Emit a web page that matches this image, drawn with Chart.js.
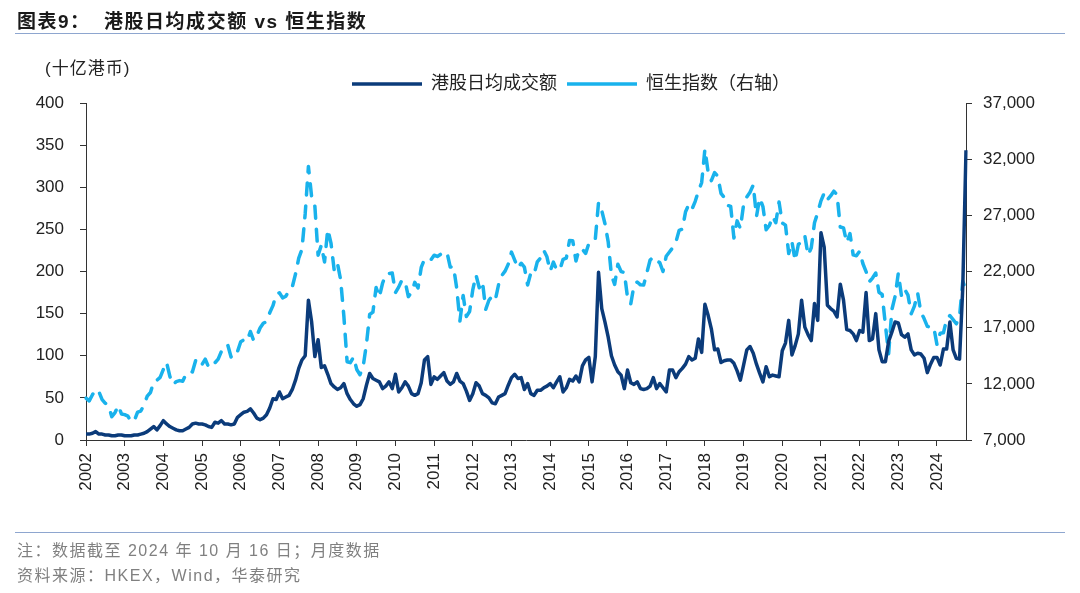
<!DOCTYPE html>
<html>
<head>
<meta charset="utf-8">
<script src="https://cdn.jsdelivr.net/npm/chart.js@4.4.1/dist/chart.umd.min.js"></script>
<style>
html, body { margin: 0; padding: 0; background: #fff; }
body { width: 1080px; height: 593px; position: relative; overflow: hidden; font-family: "Liberation Sans", "Noto Sans CJK SC", sans-serif; }
#wrap { position: absolute; left: 0; top: 0; width: 1080px; height: 593px; }
#title { position: absolute; left: 17px; top: 6px; font-size: 19px; font-weight: bold; color: #1a1a1a; letter-spacing: 1.5px; white-space: nowrap; }
.rule { position: absolute; left: 15px; width: 1050px; height: 0; border-top: 1.5px solid #8ea6cf; }
#unit { position: absolute; left: 45px; top: 54px; font-size: 17px; color: #222; letter-spacing: 1px; white-space: nowrap; }
.note { position: absolute; left: 17px; font-size: 16px; color: #808080; letter-spacing: 1.5px; white-space: nowrap; }
</style>
</head>
<body>
<div id="wrap"><canvas id="chart"></canvas></div>
<div id="title">图表9：&nbsp; 港股日均成交额 vs 恒生指数</div>
<div class="rule" style="top:33px"></div>
<div id="unit">(十亿港币)</div>
<div class="rule" style="top:532px"></div>
<div class="note" style="top:537px">注：数据截至 2024 年 10 月 16 日；月度数据</div>
<div class="note" style="top:562px">资料来源：HKEX，Wind，华泰研究</div>

<script>
// monthly labels, Jan 2002 .. Oct 2024
const months = [];
for (let y = 2002; y <= 2024; y++) {
  for (let m = 1; m <= 12; m++) {
    if (y === 2024 && m > 10) break;
    months.push(y + "-" + String(m).padStart(2, "0"));
  }
}

// 港股日均成交额 (十亿港币), one row per year
const turnover = [
  7, 7, 8, 10, 7, 7, 6, 6, 5, 5, 6, 6,
  5, 5, 5, 6, 6, 7, 8, 10, 13, 16, 12, 17,
  23, 19, 16, 14, 12, 11, 11, 13, 15, 19, 20, 19,
  19, 18, 16, 15, 21, 20, 23, 19, 19, 18, 19, 27,
  30, 33, 34, 37, 32, 26, 24, 26, 30, 38, 49, 48,
  57, 49, 51, 53, 60, 71, 85, 95, 100, 166, 140, 99,
  119, 86, 88, 78, 67, 63, 60, 62, 67, 55, 48, 43,
  40, 42, 49, 65, 79, 73, 71, 69, 61, 64, 69, 61,
  78, 57, 62, 69, 64, 55, 53, 55, 68, 95, 99, 66,
  75, 72, 76, 80, 70, 66, 69, 79, 70, 67, 58, 47,
  55, 68, 64, 55, 53, 50, 44, 43, 51, 53, 55, 65,
  74, 78, 73, 74, 60, 67, 55, 53, 59, 59, 62, 64,
  67, 62, 69, 75, 57, 62, 72, 70, 76, 69, 88, 95,
  98, 69, 99, 199, 156, 140, 122, 100, 89, 81, 77, 61,
  83, 68, 66, 69, 61, 60, 61, 64, 74, 61, 67, 62,
  57, 83, 83, 74, 81, 85, 90, 99, 95, 97, 120, 104,
  161, 148, 132, 107, 108, 92, 94, 95, 95, 91, 82, 71,
  89, 107, 111, 103, 90, 79, 69, 87, 75, 77, 76, 75,
  106, 115, 142, 101, 112, 126, 166, 134, 125, 118, 162, 142,
  246, 229, 160, 156, 153, 146, 185, 166, 131, 130, 126, 118,
  130, 128, 175, 118, 120, 150, 107, 93, 93, 117, 128, 140,
  139, 125, 122, 126, 107, 101, 103, 102, 97, 80, 90, 98,
  98, 89, 108, 108, 140, 107, 97, 96, 181, 344
];

// 恒生指数, month end
const hsi = [
  10725, 10482, 11033, 11497, 11301, 10599, 10268, 10043, 9072, 9441, 10070, 9321,
  9258, 9123, 8634, 8717, 9487, 9577, 10134, 10908, 11230, 12190, 12317, 12576,
  13289, 13908, 12682, 11942, 12198, 12286, 12238, 12850, 13121, 13055, 14060, 14230,
  13722, 14195, 13516, 13908, 13868, 14201, 14880, 14903, 15429, 14386, 14937, 14876,
  15753, 15918, 15805, 16661, 15857, 16267, 16971, 17392, 17543, 18324, 18960, 19965,
  20107, 19652, 19800, 20318, 20634, 21773, 23184, 23984, 27143, 31352, 28643, 27813,
  23456, 24332, 22849, 25755, 24533, 22102, 22731, 21262, 18016, 13969, 13888, 14387,
  13278, 12812, 13576, 15521, 18171, 18379, 20573, 19724, 20955, 21753, 21821, 21873,
  20122, 20609, 21239, 21108, 19765, 20129, 21030, 20537, 22359, 23096, 23008, 23035,
  23447, 23338, 23528, 23721, 23684, 22398, 22440, 20535, 17592, 19864, 17989, 18434,
  20390, 21680, 20556, 21094, 18630, 19441, 19796, 19482, 20840, 21642, 22030, 22657,
  23730, 23020, 22300, 22737, 22392, 20803, 21883, 21731, 22860, 23206, 23881, 23306,
  22035, 22837, 22151, 22134, 23082, 23191, 24757, 24742, 22933, 23998, 23987, 23605,
  24507, 24823, 24901, 28133, 27424, 26250, 24636, 21671, 20846, 22640, 21996, 21914,
  19683, 19112, 20777, 21067, 20815, 20794, 21891, 23023, 23297, 22935, 22790, 22001,
  23361, 23741, 24112, 24615, 25661, 25765, 27323, 27970, 27554, 28246, 29177, 29919,
  32887, 30845, 30093, 30808, 30469, 28955, 28583, 27889, 27789, 24980, 26507, 25846,
  27942, 28633, 29051, 29699, 26901, 28543, 27778, 25725, 26092, 26907, 26346, 28190,
  26313, 26130, 23603, 24644, 22961, 24427, 24595, 25177, 23459, 24107, 26341, 27231,
  28284, 28980, 28378, 28725, 29152, 28828, 25961, 25879, 24576, 25377, 23475, 23398,
  23802, 22713, 21997, 21089, 21415, 21860, 20157, 19954, 17223, 14687, 18597, 19781,
  21842, 19786, 20400, 19895, 18234, 18916, 20079, 18382, 17810, 17112, 17043, 17047,
  15485, 16511, 16541, 17763, 18080, 17719, 17345, 17989, 21134, 20300
];

const navy = "#0b3b7a";
const sky = "#19b2ec";
const axisColor = "#333";
const tickFont = { size: 17, family: '"Liberation Sans", Arial, sans-serif' };

Chart.defaults.font.family = '"Liberation Sans", "Noto Sans CJK SC", sans-serif';
Chart.defaults.color = "#222";

// the legend in the original sits a little right of the page centre
const legendShift = {
  id: "legendShift",
  afterLayout(chart) {
    const lg = chart.legend;
    if (!lg) return;
    lg.left += 31;
    lg.right += 31;
  }
};

const ctx = document.getElementById("chart").getContext("2d");
const chart = new Chart(ctx, {
  type: "line",
  data: {
    labels: months,
    datasets: [
      {
        label: "港股日均成交额",
        data: turnover,
        yAxisID: "y",
        borderColor: navy,
        backgroundColor: navy,
        borderWidth: 3.5,
        borderJoinStyle: "round",
        pointRadius: 0,
        tension: 0
      },
      {
        label: "恒生指数（右轴）",
        data: hsi,
        yAxisID: "y1",
        borderColor: sky,
        backgroundColor: sky,
        borderWidth: 3.5,
        borderDash: [12, 11],
        borderCapStyle: "round",
        borderJoinStyle: "round",
        pointRadius: 0,
        tension: 0
      }
    ]
  },
  options: {
    responsive: true,
    maintainAspectRatio: false,
    animation: false,
    events: [],
    layout: { padding: { left: 10, right: 10, top: 65, bottom: 93 } },
    plugins: {
      tooltip: { enabled: false },
      legend: {
        position: "top",
        align: "center",
        labels: {
          usePointStyle: true,
          pointStyle: "line",
          pointStyleWidth: 70,
          font: { size: 18 },
          color: "#222",
          padding: 10
        }
      }
    },
    scales: {
      x: {
        type: "category",
        offset: false,
        grid: { display: true, drawOnChartArea: false, drawTicks: true, tickLength: 6, color: axisColor },
        border: { display: true, color: axisColor, width: 1 },
        ticks: {
          autoSkip: false,
          minRotation: 90,
          maxRotation: 90,
          padding: 7,
          font: tickFont,
          color: "#222",
          callback: function (value) {
            const lab = this.getLabelForValue(value);
            return lab.endsWith("-01") ? lab.slice(0, 4) : null;
          }
        },
        afterFit: (scale) => { scale.height = 60; }
      },
      y: {
        position: "left",
        min: 0,
        max: 400,
        grid: { drawOnChartArea: false, tickLength: 6, color: axisColor },
        border: { display: true, color: axisColor, width: 1 },
        ticks: { stepSize: 50, padding: 16, font: tickFont, color: "#222" },
        afterFit: (scale) => { scale.width = 76; }
      },
      y1: {
        position: "right",
        min: 7000,
        max: 37000,
        grid: { drawOnChartArea: false, tickLength: 6, color: axisColor },
        border: { display: true, color: axisColor, width: 1 },
        ticks: {
          stepSize: 5000,
          padding: 11,
          font: tickFont,
          color: "#222",
          callback: (v) => v.toLocaleString("en-US")
        },
        afterFit: (scale) => { scale.width = 104; }
      }
    }
  },
  plugins: [legendShift]
});
</script>
</body>
</html>
